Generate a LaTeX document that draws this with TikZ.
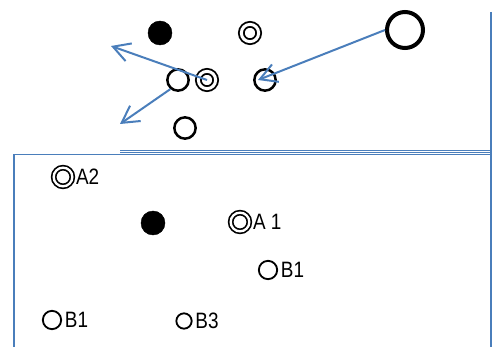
\documentclass[tikz,border=0pt]{standalone}
\usepackage{fontspec}
\setmainfont{Liberation Sans}[FakeStretch=0.85]
\usepackage{tikz}
\usetikzlibrary{arrows.meta}
\definecolor{lineblue}{RGB}{74,126,187}
\tikzstyle{blackdot}=[circle,draw=black,fill=black,
                      inner sep=0pt,minimum size=7.2mm]
\tikzstyle{ring}=[circle,draw=black,line width=0.75mm,
                  inner sep=0pt,minimum size=6.4mm]
\tikzstyle{dring}=[circle,draw=black,double,line width=0.55mm,
                   double distance=0.9mm,inner sep=0pt,minimum size=5.2mm]
\tikzstyle{smallring}=[circle,draw=black,line width=0.55mm,
                       inner sep=0pt,minimum size=5.5mm]
\tikzstyle{smalldring}=[circle,draw=black,double,line width=0.5mm,
                        double distance=0.7mm,inner sep=0pt,minimum size=5.6mm]
\tikzstyle{move}=[draw=lineblue,line width=0.6mm,
                  -{Straight Barb[length=5mm,width=5.6mm]}]
\tikzstyle{wall}=[draw=lineblue,line width=0.45mm]

\begin{document}
\begin{tikzpicture}[x=0.3mm,y=-0.3mm,
    every label/.style={inner sep=0pt,label distance=0.8mm,
                        font=\fontsize{19}{21}\selectfont}]
    \useasboundingbox (0,0) rectangle (495,347);
    % upper part
    \node (p1) at (160, 33) [blackdot]{};
    \node (p2) at (250, 33) [dring]{};
    \node (big) at (405, 30) [ring,line width=1.2mm,minimum size=10.8mm]{};
    \node (p3) at (178, 80) [ring]{};
    \node (p4) at (207, 80) [dring]{};
    \node (p5) at (265, 80) [ring]{};
    \node (p6) at (185,128) [ring]{};
    \coordinate (t1) at (111, 46);
    \coordinate (t2) at (120,124);
    \coordinate (t3) at (258, 80);
    \draw[move] (p4.center) -- (t1);
    \draw[move] (p3.-130) -- (t2);
    \draw[move] (big.west) -- (t3);
    % walls
    \draw[wall] (14,347) -- (14,154.5) -- (491,154.5);
    \draw[wall,line width=0.3mm] (120,150.5) -- (491,150.5);
    \draw[wall,line width=0.3mm] (120,152.5) -- (491,152.5);
    \draw[wall] (491,12) -- (491,347);
    % lower part
    \node (a2) at ( 63,177) [smalldring,label=right:{A2}]{};
    \node (p7) at (153,223) [blackdot]{};
    \node (a1) at (240,222) [smalldring,label=right:{A 1}]{};
    \node (b1) at (268,270) [smallring,label=right:{B1}]{};
    \node (b2) at ( 52,320) [smallring,label=right:{B1}]{};
    \node (b3) at (184,321) [smallring,minimum size=4.6mm,label=right:{B3}]{};
\end{tikzpicture}
\end{document}
